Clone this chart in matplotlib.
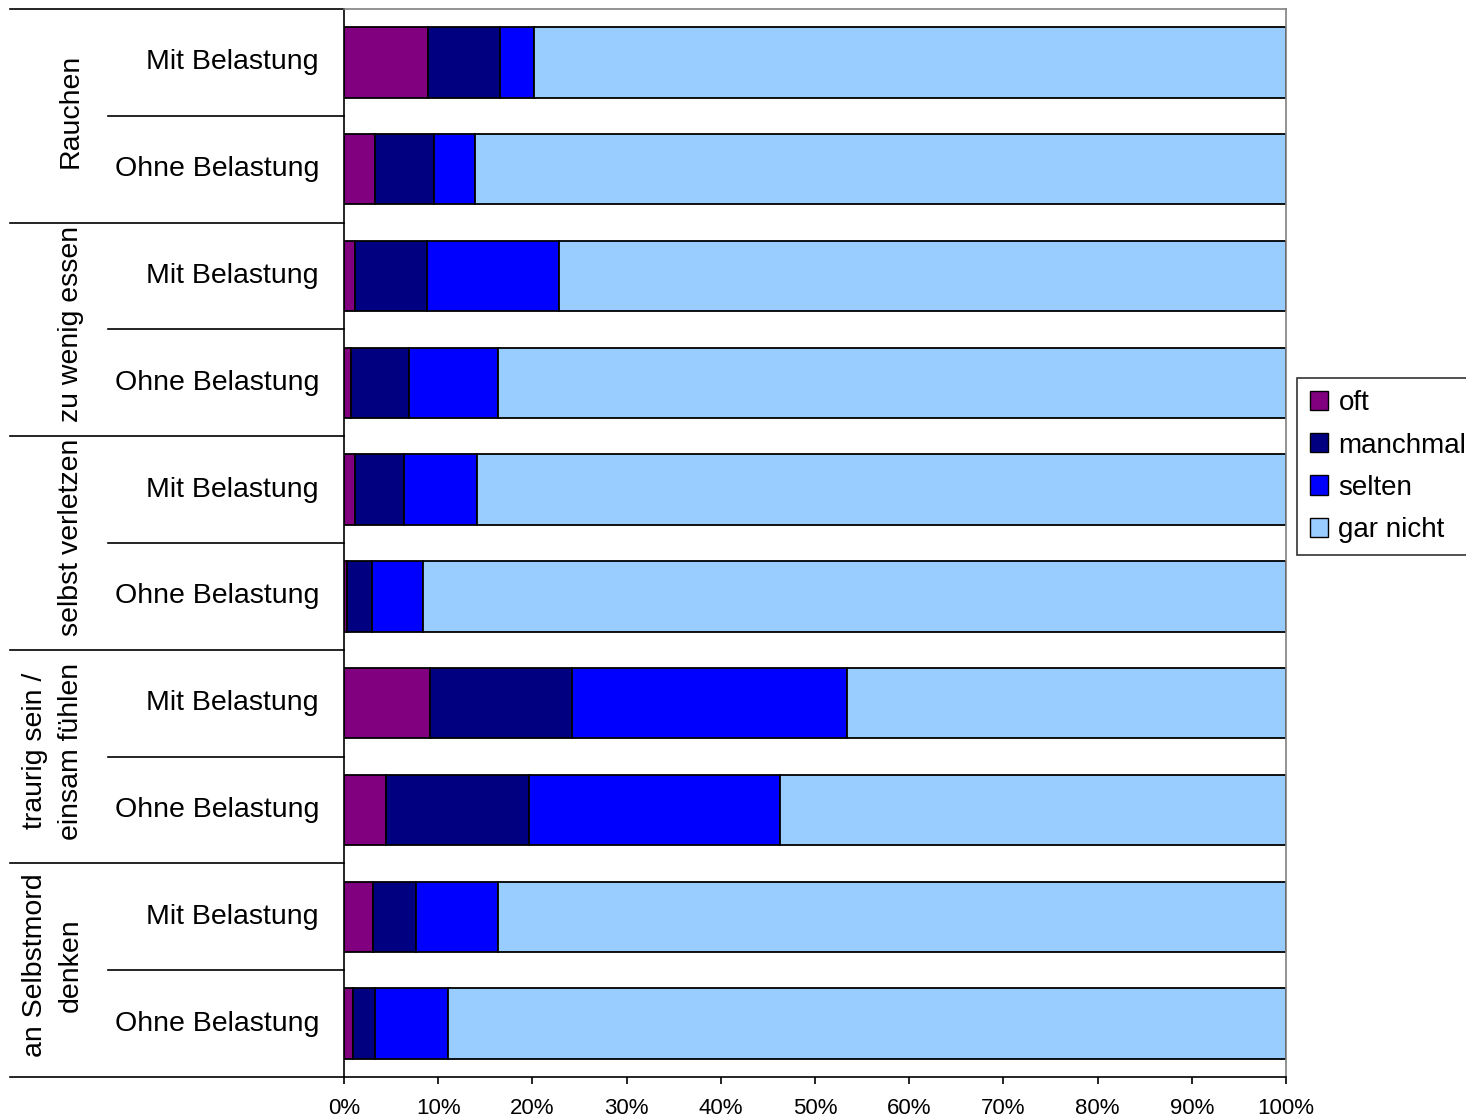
import numpy as np
import matplotlib
matplotlib.use("Agg")
import matplotlib.pyplot as plt

plt.rcParams['font.family'] = ['Liberation Sans', 'DejaVu Sans']

groups = ["Rauchen", "zu wenig essen", "selbst verletzen",
          "traurig sein /\neinsam fühlen", "an Selbstmord\ndenken"]
subgroups = ["Mit Belastung", "Ohne Belastung"]

series_names = ["oft", "manchmal", "selten", "gar nicht"]
series_colors = ["#800080", "#000080", "#0000FF", "#99CCFF"]

# shares in percent, one entry per bar (group x subgroup, top to bottom)
oft = [8.9, 3.3, 1.2, 0.7, 1.2, 0.3, 9.1, 4.5, 3.1, 1.0]
manchmal = [7.7, 6.3, 7.6, 6.2, 5.2, 2.7, 15.1, 15.1, 4.5, 2.3]
selten = [3.6, 4.3, 14.0, 9.4, 7.7, 5.4, 29.2, 26.7, 8.7, 7.7]
gar_nicht = [79.8, 86.1, 77.2, 83.7, 85.9, 91.6, 46.6, 53.7, 83.7, 89.0]

W, H = 1466, 1120
fig = plt.figure(figsize=(W / 100, H / 100), dpi=100)
ax = fig.add_axes([344 / W, 1 - 1077 / H, (1286 - 344) / W, (1077 - 9) / H])

y = np.arange(len(oft))
left = np.zeros(len(oft))
handles = []
for vals, name, col in zip([oft, manchmal, selten, gar_nicht], series_names, series_colors):
    vals = np.array(vals)
    b = ax.barh(y, vals, left=left, height=0.66, color=col, edgecolor="black",
                linewidth=1.3, label=name)
    handles.append(b)
    left += vals

ax.set_xlim(0, 100)
ax.set_ylim(len(oft) - 0.5, -0.5)
ax.set_xticks(np.arange(0, 101, 10))
ax.set_xticklabels([f"{v}%" for v in range(0, 101, 10)], fontsize=16)
ax.tick_params(axis="x", direction="out", length=5, width=1.2, pad=10, color="black")
ax.set_yticks([])

for s in ["top", "right"]:
    ax.spines[s].set_color("#808080")
    ax.spines[s].set_linewidth(1.2)
for s in ["left", "bottom"]:
    ax.spines[s].set_color("black")
    ax.spines[s].set_linewidth(1.2)

tr = ax.get_yaxis_transform()
x_outer = (10 - 344) / (1286 - 344)
x_inner = (108 - 344) / (1286 - 344)
x_sub = (319 - 344) / (1286 - 344)

# group separators (full width) and subgroup separators (inner)
for k in range(len(groups) + 1):
    ax.plot([x_outer, 0], [2 * k - 0.5] * 2, transform=tr, color="black",
            lw=1.2, clip_on=False)
for k in range(len(groups)):
    ax.plot([x_inner, 0], [2 * k + 0.5] * 2, transform=tr, color="black",
            lw=1.2, clip_on=False)

# subgroup labels
for i in range(len(oft)):
    ax.text(x_sub, i, subgroups[i % 2], transform=tr, ha="right", va="center",
            fontsize=20.5)

# group labels, rotated
for k, g in enumerate(groups):
    xc = (53 - 344) / (1286 - 344) if "\n" in g else (71 - 344) / (1286 - 344)
    ax.text(xc, 2 * k + 0.45, g, transform=tr, rotation=90, ha="center",
            va="center", fontsize=20.5, multialignment="center", linespacing=1.5)

leg = fig.legend(handles=handles, labels=series_names, loc="upper left",
                 bbox_to_anchor=(1297 / W, 1 - 545 / H, 190 / W, 167 / H),
                 mode="expand", borderaxespad=0,
                 fontsize=20, frameon=True, fancybox=False, edgecolor="black",
                 handlelength=0.68, handleheight=0.68, handletextpad=0.36,
                 labelspacing=0.58, borderpad=0.45)
leg.get_frame().set_linewidth(1.2)
for p in leg.get_patches():
    p.set_linewidth(1.0)

fig.savefig("out.png", dpi=100)
